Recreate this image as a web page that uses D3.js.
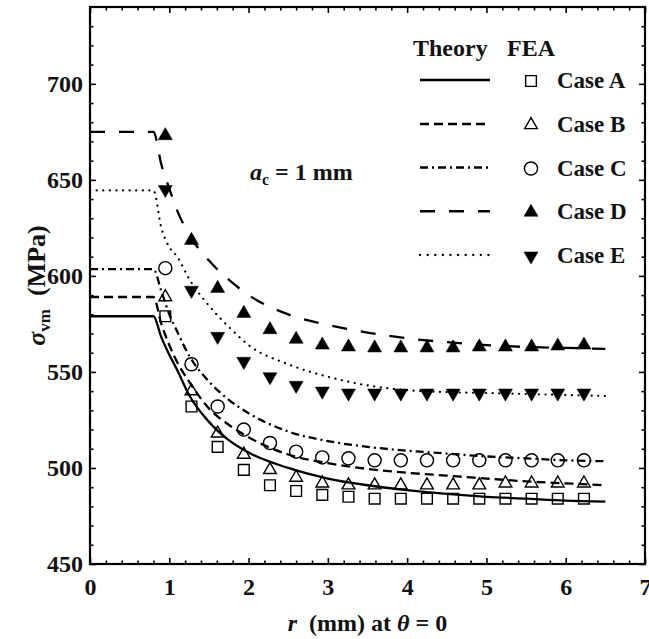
<!DOCTYPE html>
<html>
<head>
<meta charset="utf-8">
<script src="https://cdn.jsdelivr.net/npm/d3@7/dist/d3.min.js"></script>
<style>
html,body{margin:0;padding:0;background:#fff;}
svg text{font-family:"Liberation Serif","Times New Roman",serif;font-weight:bold;fill:#111;}
</style>
</head>
<body>
<svg id="chart" width="649" height="639"></svg>
<script>
// ---------- data ----------
const xTicks = [0,1,2,3,4,5,6,7];
const yTicks = [450,500,550,600,650,700];
const caseNames = ["Case A","Case B","Case C","Case D","Case E"];

// FEA sample radii (mm)
const feaR = [0.95,1.28,1.61,1.94,2.27,2.6,2.93,3.26,3.59,3.92,4.25,4.58,4.91,5.24,5.57,5.9,6.23];
const feaA = [579,532,511,499,491,488,486,485,484,484,484,484,484,484,484,484,484];
const feaB = [589,540,518,507,499,495,492,491,491,491,491,491,491,492,492,492,492];
const feaC = [604,554,532,520,513,508.5,505.5,505,504,504,504,504,504,504,504,504,504];
const feaD = [673,618.5,593.5,580.5,572,567,564,563,562.5,562.5,562.5,562.5,563,563,563,563.5,564];
const feaE = [645,592.5,568.5,555.5,547.5,543,540,539,539,539,539,539,539,539,539,539,539];

// Theory curves
const thR = [0,0.8,0.9,1.0,1.1,1.25,1.5,1.75,2.0,2.5,3.0,3.5,4.0,4.5,5.0,5.5,6.0,6.5];
const thA = [579,579,568,559,551,538,524,514.5,508,500,494.5,491,488.5,486.5,485,484,483,482.5];
const thB = [589,589,575,564,555,545,531,522.5,516,507,502.5,499.5,497.5,496,494.5,493,492,491];
const thC = [603.5,603.5,592,580,571,558.5,545,535.5,528.5,519,514,511,509,507.5,506,505,504,503.5];
const thD = [675,675,658,645.5,634,621.5,608,598,590,580,574.5,570.5,567.5,565.5,564,563,562.5,562];
const thE = [644.5,644.5,625,615,610,598.5,584.5,573.5,564,554,547.5,543,540.5,539.5,539,538.5,538,537.5];

// ---------- layout ----------
const svg = d3.select("#chart");
const L = 90, R = 645, T = 7, B = 564;
const x = d3.scaleLinear().domain([0,7]).range([L,R]);
const y = d3.scaleLinear().domain([450,740]).range([B,T]);

const styles = [
  {dash:null, sym:d3.symbolSquare, size:115, fill:"none", rot:0},
  {dash:"9,5", sym:d3.symbolTriangle, size:70, fill:"none", rot:0},
  {dash:"8,4,2,4", sym:d3.symbolCircle, size:135, fill:"none", rot:0},
  {dash:"15,14", sym:d3.symbolTriangle, size:85, fill:"#000", rot:0},
  {dash:"2,5", sym:d3.symbolTriangle, size:85, fill:"#000", rot:180}
];
const thVals = [thA,thB,thC,thD,thE];
const feaVals = [feaA,feaB,feaC,feaD,feaE];

// clip
svg.append("clipPath").attr("id","clip").append("rect")
  .attr("x",L).attr("y",T).attr("width",R-L).attr("height",B-T);

// theory lines
const line = d3.line().x(d=>x(d[0])).y(d=>y(d[1])).curve(d3.curveMonotoneX);
const gLines = svg.append("g").attr("clip-path","url(#clip)");
thVals.forEach((vals,i)=>{
  gLines.append("path")
    .attr("d", line(thR.map((r,k)=>[r,vals[k]])))
    .attr("fill","none").attr("stroke","#000")
    .attr("stroke-width", i===4 ? 2.2 : 2.3)
    .attr("stroke-linecap", i===4 ? "round" : "butt")
    .attr("stroke-dasharray", i===4 ? "0.1,6.5" : styles[i].dash);
});

// FEA markers
function marker(g, i, cx, cy){
  const s = styles[i];
  g.append("path")
    .attr("d", d3.symbol().type(s.sym).size(s.size)())
    .attr("transform", `translate(${cx},${cy}) rotate(${s.rot})`)
    .attr("fill", s.fill).attr("stroke","#000").attr("stroke-width", s.fill==="none"?1.4:0.5);
}
const gPts = svg.append("g");
feaVals.forEach((vals,i)=>{
  feaR.forEach((r,k)=> marker(gPts, i, x(r), y(vals[k])));
});

// axes (ticks inward, on all four sides)
const xMinor = d3.range(0,7.001,0.2).filter(v=>Math.abs(v-Math.round(v))>1e-6);
const yMinor = d3.range(450,740,10).filter(v=>v%50!==0);
function axisPair(axisFn, scale, major, minor, transform, labels){
  const g1 = svg.append("g").attr("transform",transform)
    .call(axisFn(scale).tickValues(major).tickSize(-6).tickFormat(labels ? d3.format("d") : ""));
  const g2 = svg.append("g").attr("transform",transform)
    .call(axisFn(scale).tickValues(minor).tickSize(-3.5).tickFormat(""));
  [g1,g2].forEach(g=>{ g.select(".domain").remove(); g.selectAll("line").attr("stroke","#000").attr("stroke-width",1.6); });
  return g1;
}
const gx = axisPair(d3.axisBottom, x, xTicks, xMinor, `translate(0,${B})`, true);
gx.selectAll("text").attr("font-size",24).attr("y",14).attr("dy","0.71em").attr("fill","#111");
axisPair(d3.axisTop, x, xTicks, xMinor, `translate(0,${T})`, false);
const yMajor = d3.range(450,740,50);
axisPair(d3.axisLeft, y, yMajor, yMinor, `translate(${L},0)`, false);
axisPair(d3.axisRight, y, yMajor, yMinor, `translate(${R},0)`, false);
// y labels
svg.append("g").selectAll("text").data(yTicks).join("text")
  .attr("x", L-7).attr("y", d=>y(d)).attr("dy","0.35em")
  .attr("text-anchor","end").attr("font-size",24).text(d=>d);

// frame
svg.append("rect").attr("x",L).attr("y",T).attr("width",R-L).attr("height",B-T)
  .attr("fill","none").attr("stroke","#000").attr("stroke-width",2.2);

// axis titles
const xt = svg.append("text").attr("x",(L+R)/2).attr("y",631).attr("text-anchor","middle").attr("font-size",24);
xt.append("tspan").attr("font-style","italic").text("r");
xt.append("tspan").text("\u2002(mm) at ");
xt.append("tspan").attr("font-style","italic").text("θ");
xt.append("tspan").text(" = 0");

const yt = svg.append("text").attr("transform",`translate(45,${(T+B)/2}) rotate(-90)`)
  .attr("text-anchor","middle").attr("font-size",26);
yt.append("tspan").attr("font-style","italic").text("σ");
yt.append("tspan").attr("font-size",17).attr("dy",5).text("vm");
yt.append("tspan").attr("dy",-5).text("\u2002(MPa)");

// annotation
const an = svg.append("text").attr("x",250).attr("y",180).attr("font-size",24);
an.append("tspan").attr("font-style","italic").text("a");
an.append("tspan").attr("font-size",16).attr("dy",5).text("c");
an.append("tspan").attr("dy",-5).text(" = 1 mm");

// legend
svg.append("text").attr("x",413).attr("y",56).attr("font-size",24).text("Theory");
svg.append("text").attr("x",507).attr("y",56).attr("font-size",24).text("FEA");
const legY = [80,124,167.5,211.25,255];
caseNames.forEach((name,i)=>{
  const ly = legY[i];
  svg.append("line").attr("x1",420).attr("x2",490).attr("y1",ly).attr("y2",ly)
    .attr("stroke","#000").attr("stroke-width",2.3)
    .attr("stroke-linecap", i===4 ? "round" : "butt")
    .attr("stroke-dasharray", i===4 ? "0.1,7.5" : styles[i].dash);
  marker(svg, i, 531, ly+1);
  svg.append("text").attr("x",557).attr("y",ly).attr("dy","0.35em").attr("font-size",23).text(name);
});
</script>
</body>
</html>
